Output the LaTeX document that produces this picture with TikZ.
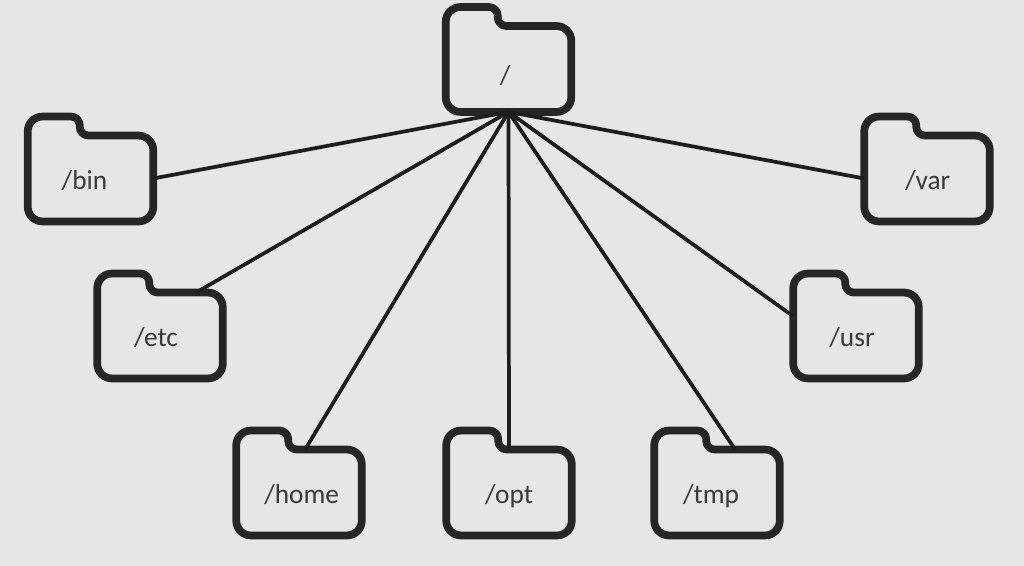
\documentclass[tikz,border=0pt]{standalone}
\usepackage{fontspec}
\setmainfont{Carlito}
\usetikzlibrary{positioning}
\definecolor{bgfill}{HTML}{E6E6E6}
\definecolor{inkdark}{HTML}{262626}
\definecolor{textdark}{HTML}{3A3A3A}
\tikzset{
  folder/.style={minimum width=93.75pt,minimum height=64pt,inner sep=0pt,text height=17pt,text depth=0pt,text=textdark,font=\fontsize{20.5}{24}\selectfont},
  folderline/.style={draw=inkdark,line width=5.8pt,rounded corners=11pt,line join=round},
  link/.style={draw=inkdark!80!black,line width=2.8pt}
}
\begin{document}
\begin{tikzpicture}[x=0.75pt,y=-0.75pt]
\fill[bgfill] (0,0) rectangle (1024,566);
\node[folder] (root) at (508.5,69) {\kern-5pt\raisebox{-3pt}{/}};
\node[folder] (bin) at (90.5,178.5) {\kern-9pt /bin};
\node[folder] (etc) at (160,335.5) {\kern-6pt /etc};
\node[folder] (home) at (299,492.5) {\kern4pt /home};
\node[folder] (opt) at (509,492.5) {/opt};
\node[folder] (tmp) at (717,492.5) {\kern-9pt /tmp};
\node[folder] (usr) at (856,335.5) {\kern-6pt /usr};
\node[folder] (var) at (927,178.5) {\kern1pt /var};
% folder outlines
\foreach \n in {root,bin,etc,home,opt,tmp,usr,var}
  \draw[folderline] (\n.south west) -- ([yshift=14.25pt]\n.north west)
    [rounded corners=6.5pt] -- ([xshift=39pt,yshift=14.25pt]\n.north west)
    -- ([xshift=39pt]\n.north west)
    [rounded corners=11pt] -- (\n.north east) -- (\n.south east) -- cycle;
% links
\draw[link] (root.south) -- (bin.east);
\draw[link] (root.south) -- (etc.50);
\draw[link] (root.south) -- (home.82);
\draw[link] (root.south) -- (opt.north);
\draw[link] (root.south) -- (tmp.67);
\draw[link] (root.south) -- (usr.163);
\draw[link] (root.south) -- (var.west);
\end{tikzpicture}
\end{document}
